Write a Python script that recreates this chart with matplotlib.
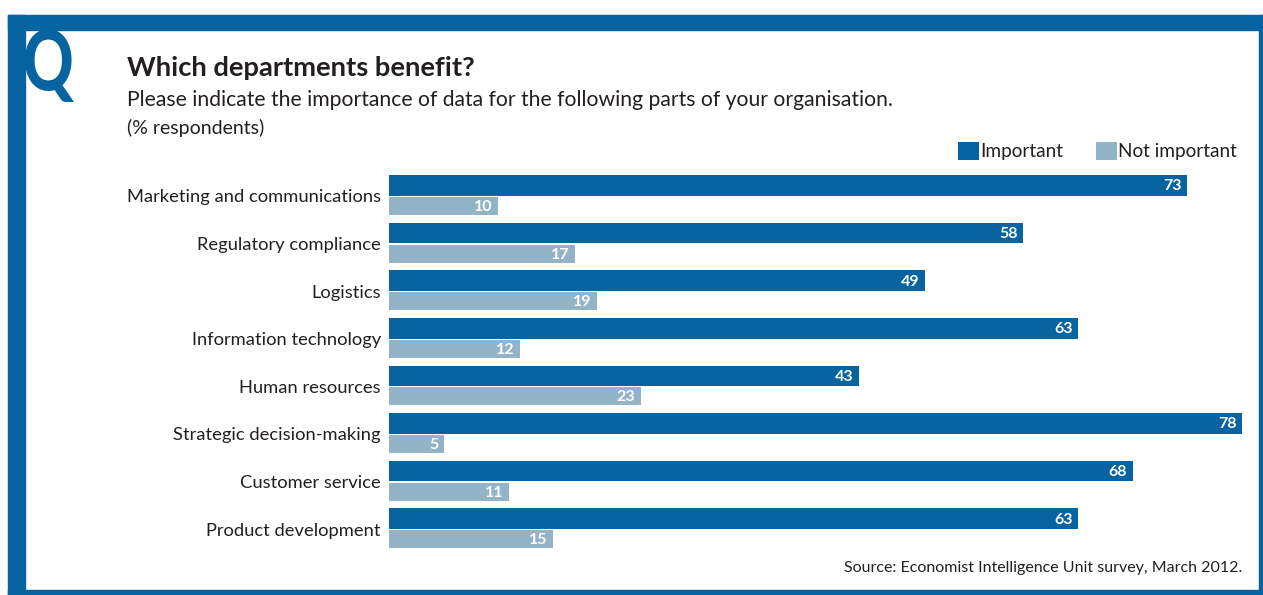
import numpy as np
import matplotlib.pyplot as plt
from matplotlib.patches import Rectangle, PathPatch
from matplotlib.textpath import TextPath
from matplotlib.font_manager import FontProperties
from matplotlib.transforms import Affine2D

# Datos de la encuesta (% respondents)
departments = ["Marketing and communications", "Regulatory compliance", "Logistics",
               "Information technology", "Human resources", "Strategic decision-making",
               "Customer service", "Product development"]
important = [73, 58, 49, 63, 43, 78, 68, 63]
not_important = [10, 17, 19, 12, 23, 5, 11, 15]

azul = "#0863a1"
celeste = "#93b4c7"
texto = "#231f20"

plt.rcParams['font.family'] = ['Lato', 'DejaVu Sans']

W, H = 1263, 595
fig = plt.figure(figsize=(W / 100, H / 100), dpi=100)

# marco azul
def px_rect(x0, y0, x1, y1):
    fig.patches.append(Rectangle((x0 / W, 1 - y1 / H), (x1 - x0) / W, (y1 - y0) / H,
                                 transform=fig.transFigure, color=azul, zorder=0))

px_rect(8, 15, 1263, 30)
px_rect(8, 15, 25, 595)
px_rect(1259, 15, 1263, 595)
px_rect(8, 590, 1263, 595)

# la Q grande, angostada a mano (en pixeles)
q = TextPath((0, 0), "Q", size=100, prop=FontProperties(family="Lato", weight="black"))
ext = q.get_extents()
qx0, qx1, qy0, qy1 = 25, 74, 29, 102
tr = (Affine2D().translate(-ext.x0, -ext.y0)
      .scale((qx1 - qx0) / ext.width, (qy1 - qy0) / ext.height)
      .translate(qx0, H - qy1))
fig.patches.append(PathPatch(q, transform=tr, color=azul, lw=0, zorder=1))

# ejes: 0..78 va de x=389 a x=1242 px
y0_px, paso = 196, 47.6
top_px = y0_px - 0.5 * paso
bot_px = y0_px + 7.5 * paso
ax = fig.add_axes([389 / W, 1 - bot_px / H, (1242 - 389) / W, (bot_px - top_px) / H])
ax.set_xlim(0, 78)
ax.set_ylim(7.5, -0.5)
ax.axis("off")

y = np.arange(len(departments))
b1 = ax.barh(y - 0.22, important, height=0.43, color=azul, label="Important")
b2 = ax.barh(y + 0.21, not_important, height=0.38, color=celeste, label="Not important")

for yi, v in zip(y, important):
    ax.text(v - 0.5, yi - 0.2, str(v), ha="right", va="center", color="white",
            fontsize=11.5, fontweight="bold")
for yi, v in zip(y, not_important):
    ax.text(v - 0.5, yi + 0.23, str(v), ha="right", va="center", color="white",
            fontsize=11.5, fontweight="bold")

for yi, name in zip(y, departments):
    ax.text(-0.75, yi + 0.03, name, ha="right", va="center", color=texto, fontsize=13.2)

# títulos
fig.text(127 / W, 1 - 68 / H, "Which departments benefit?", ha="left", va="center",
         color=texto, fontsize=19.7, fontweight="bold")
fig.text(127 / W, 1 - 100 / H,
         "Please indicate the importance of data for the following parts of your organisation.",
         ha="left", va="center", color=texto, fontsize=15.2)
fig.text(127 / W, 1 - 128 / H, "(% respondents)", ha="left", va="center",
         color=texto, fontsize=14)

fig.legend(handles=[b1, b2], loc="center right", bbox_to_anchor=(1244 / W, 1 - 151 / H),
           ncol=2, frameon=False, fontsize=13.7, handlelength=1.1, handleheight=1.1,
           handletextpad=0.05, columnspacing=1.7, borderaxespad=0, labelcolor=texto)

fig.text(1242 / W, 1 - 568 / H, "Source: Economist Intelligence Unit survey, March 2012.",
         ha="right", va="center", color=texto, fontsize=11.5)

fig.savefig("out.png", dpi=100)
